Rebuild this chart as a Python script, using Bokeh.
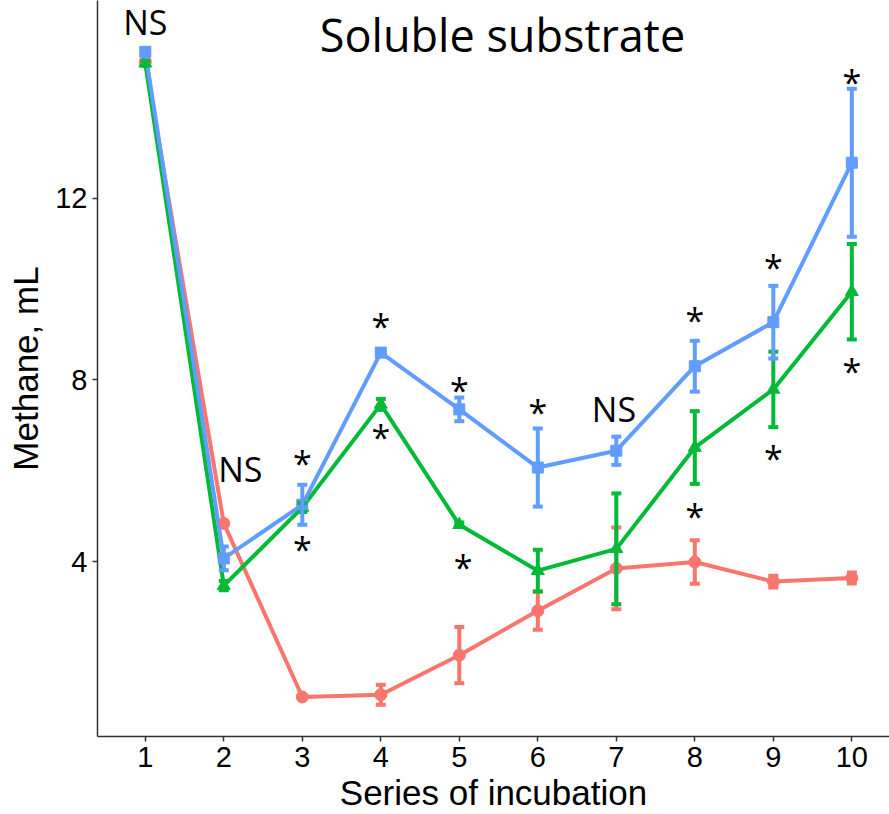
from bokeh.plotting import figure
from bokeh.models import (ColumnDataSource, Whisker, TeeHead, LabelSet, Label,
                          FixedTicker, Range1d)
from bokeh.core.properties import value
from bokeh.embed import file_html
from bokeh.resources import INLINE

# ---- data ----
series = [1, 2, 3, 4, 5, 6, 7, 8, 9, 10]

red_vals = [15.00, 4.84, 1.02, 1.07, 1.94, 2.92, 3.85, 3.99, 3.56, 3.64]
red_err = [0.00, 0.00, 0.00, 0.22, 0.62, 0.42, 0.90, 0.48, 0.13, 0.12]

green_vals = [14.97, 3.47, 5.19, 7.46, 4.81, 3.80, 4.28, 6.51, 7.79, 9.94]
green_err = [0.05, 0.10, 0.10, 0.12, 0.05, 0.46, 1.22, 0.80, 0.83, 1.05]

blue_vals = [15.22, 4.07, 5.25, 8.60, 7.35, 6.07, 6.44, 8.30, 9.27, 12.78]
blue_err = [0.00, 0.26, 0.44, 0.05, 0.26, 0.86, 0.31, 0.56, 0.80, 1.63]

# significance marks
sig_x = [1, 2.21, 3, 3, 4, 4, 5, 5.05, 6, 6.97, 8, 8, 9, 9, 10, 10]
sig_y = [15.87, 6.03, 6.32, 4.43, 9.34, 6.89, 7.94, 4.04, 7.44, 7.35,
         9.48, 5.16, 10.64, 6.43, 14.71, 8.34]
sig_label = ["NS", "NS", "*", "*", "*", "*", "*", "*", "*", "NS",
             "*", "*", "*", "*", "*", "*"]

x_ticks = [1, 2, 3, 4, 5, 6, 7, 8, 9, 10]
y_ticks = [4, 8, 12]

title_text = "Soluble substrate"
title_x = 5.55
title_y = 15.61
x_label = "Series of incubation"
y_label = "Methane, mL"

RED = "#F8766D"
GREEN = "#00BA38"
BLUE = "#619CFF"

p = figure(width=889, height=814, output_backend="svg", toolbar_location=None,
           x_range=Range1d(0.391, 10.48), y_range=Range1d(0.15, 16.35),
           min_border_left=97, min_border_right=0, min_border_top=0,
           min_border_bottom=76)
p.outline_line_color = None
p.xgrid.visible = False
p.ygrid.visible = False
p.background_fill_color = "white"
p.border_fill_color = "white"

for ax in (p.xaxis[0], p.yaxis[0]):
    ax.axis_line_color = "#333333"
    ax.axis_line_width = 1.5
    ax.major_tick_line_color = "#333333"
    ax.major_tick_line_width = 1.5
    ax.major_tick_out = 5
    ax.major_tick_in = 0
    ax.minor_tick_line_color = None
    ax.major_label_text_font = "Liberation Sans"
    ax.major_label_text_font_size = "29px"
    ax.major_label_text_color = "black"
    ax.axis_label_text_font = "Liberation Sans"
    ax.axis_label_text_font_size = "35px"
    ax.axis_label_text_font_style = "normal"
    ax.axis_label_text_color = "black"

p.xaxis.ticker = FixedTicker(ticks=x_ticks)
p.yaxis.ticker = FixedTicker(ticks=y_ticks)
p.xaxis.axis_label = x_label
p.yaxis.axis_label = y_label
p.xaxis.major_label_standoff = 5
p.xaxis.axis_label_standoff = 3
p.yaxis.major_label_standoff = 5
p.yaxis.axis_label_standoff = 7

groups = [
    (red_vals, red_err, RED, "circle", 12),
    (green_vals, green_err, GREEN, "triangle", 13),
    (blue_vals, blue_err, BLUE, "square", 11),
]

for vals, err, col, marker, size in groups:
    src = ColumnDataSource(dict(
        x=series, y=vals,
        lo=[v - e for v, e in zip(vals, err)],
        hi=[v + e for v, e in zip(vals, err)],
    ))
    w = Whisker(source=src, base="x", lower="lo", upper="hi",
                line_color=col, line_width=4, level="glyph",
                upper_head=TeeHead(size=10, line_color=col, line_width=4),
                lower_head=TeeHead(size=10, line_color=col, line_width=4))
    p.add_layout(w)
    p.line("x", "y", source=src, line_color=col, line_width=4)
    p.scatter("x", "y", source=src, marker=marker, size=size,
              fill_color=col, line_color=col)

sig_src = ColumnDataSource(dict(
    x=sig_x, y=sig_y, text=sig_label,
    off=[0 if t == "NS" else -7 for t in sig_label],
))
labels = LabelSet(source=sig_src, x="x", y="y", text="text", y_offset="off",
                  text_align="center", text_baseline="middle",
                  text_font=value("Open Sans"), text_font_size="34px",
                  text_color="black")
p.add_layout(labels)

title = Label(x=title_x, y=title_y, text=title_text,
              text_align="center", text_baseline="middle",
              text_font="Open Sans", text_font_size="45px",
              text_color="black")
p.add_layout(title)

open("out.html", "w").write(file_html(p, INLINE))
